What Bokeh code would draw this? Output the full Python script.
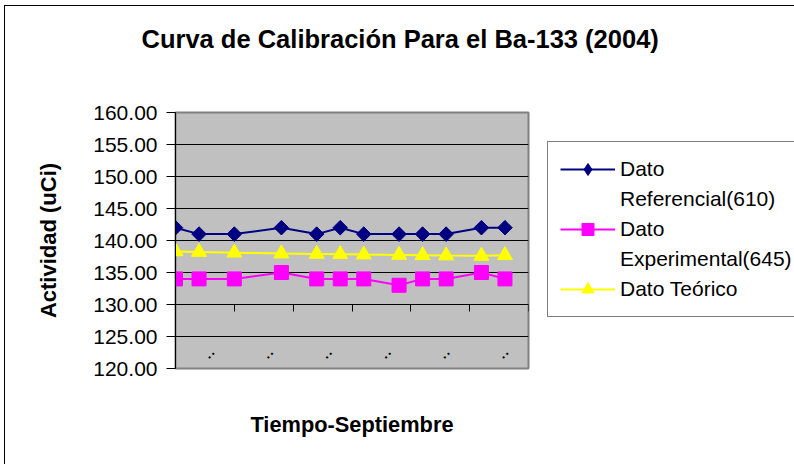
import numpy as np
from bokeh.plotting import figure
from bokeh.models import (LinearAxis, FixedTicker, Legend, LegendItem, LabelSet,
                          ColumnDataSource, Range1d, Title)
from bokeh.core.properties import value
from bokeh.embed import file_html
from bokeh.resources import INLINE

FONT = "Liberation Sans"

# ---- data ----
days = [1, 3, 6, 10, 13, 15, 17, 20, 22, 24, 27, 29]
referencial = [142, 141, 141, 142, 141, 142, 141, 141, 141, 141, 142, 142]
experimental = [134, 134, 134, 135, 134, 134, 134, 133, 134, 134, 135, 134]
teorico = [138.3, 138.2, 138.1, 137.95, 137.9, 137.85, 137.8, 137.75, 137.7, 137.65, 137.6, 137.7]

x_ticks = [1, 6, 11, 16, 21, 26, 31]
x_tick_labels = [":", ":", ":", ":", ":", ":", ":"]
x_axis_cross = 130
y_ticks = [120, 125, 130, 135, 140, 145, 150, 155, 160]
y_tick_labels = ["120.00", "125.00", "130.00", "135.00", "140.00",
                 "145.00", "150.00", "155.00", "160.00"]

legend_labels = ["Dato", "Referencial(610)", "Dato", "Experimental(645)", "Dato Teórico"]
title_text = "Curva de Calibración Para el Ba-133  (2004)"
x_label = "Tiempo-Septiembre"
y_label = "Actividad (uCi)"

NAVY = "#000080"
MAGENTA = "#FF00FF"
YELLOW = "#FFFF00"

LABEL_SHIFT_PX = 22      # date labels sit this far left of their tick

p = figure(frame_width=353, frame_height=256,
           x_range=Range1d(x_ticks[0], x_ticks[-1]), y_range=Range1d(y_ticks[0], y_ticks[-1]),
           output_backend="svg", toolbar_location=None, x_axis_location=None,
           min_border_left=170, min_border_right=264, min_border_top=106, min_border_bottom=96,
           background_fill_color="#C0C0C0", border_fill_color="white",
           outline_line_color="#808080", outline_line_width=2)
p.styles = {"margin-left": "4px", "margin-top": "5px",
            "border-left": "1px solid black", "border-top": "1px solid black"}

# spacer between plot area and title (an invisible axis with one long hidden tick)
spacer = LinearAxis(ticker=FixedTicker(ticks=[x_ticks[0]]), axis_line_color=None,
                    major_tick_line_color=None, minor_tick_line_color=None,
                    major_tick_out=60, major_tick_in=0, major_label_standoff=0,
                    major_label_text_font_size="0px")
p.add_layout(spacer, "above")
title = Title(text=title_text, text_font=FONT, text_font_size="25.5px",
              text_font_style="bold", text_color="black", align="left",
              offset=-34, standoff=0)
p.add_layout(title, "above")

# y axis
ya = p.yaxis[0]
ya.ticker = FixedTicker(ticks=y_ticks)
ya.major_label_overrides = dict(zip(y_ticks, y_tick_labels))
ya.major_label_text_font = FONT
ya.major_label_text_font_size = "21px"
ya.major_label_text_color = "black"
ya.major_tick_out = 9
ya.major_tick_in = 0
ya.minor_tick_line_color = None
ya.axis_line_color = "black"
ya.major_tick_line_color = "black"
ya.major_label_standoff = 9
ya.axis_label = y_label
ya.axis_label_text_font = FONT
ya.axis_label_text_font_size = "22px"
ya.axis_label_text_font_style = "bold"
ya.axis_label_text_color = "black"
ya.axis_label_standoff = 29

p.xgrid.visible = False
p.ygrid.ticker = FixedTicker(ticks=y_ticks)
p.ygrid.grid_line_color = "black"
p.ygrid.grid_line_width = 1

# x label (blank axis carrying the title of the x axis)
xl = LinearAxis(ticker=FixedTicker(ticks=[]), axis_line_color=None,
                major_tick_line_color=None, minor_tick_line_color=None,
                major_tick_out=0, major_tick_in=0, major_label_standoff=0,
                major_label_text_font_size="0px",
                axis_label=x_label, axis_label_standoff=43,
                axis_label_text_font=FONT, axis_label_text_font_size="21.8px",
                axis_label_text_font_style="bold", axis_label_text_color="black")
p.add_layout(xl, "below")

# x axis crossing at 130
xa = LinearAxis(fixed_location=x_axis_cross, ticker=FixedTicker(ticks=x_ticks),
                major_label_text_font_size="0px", major_tick_out=7, major_tick_in=0,
                minor_tick_line_color=None, axis_line_color="black", axis_line_width=1,
                major_tick_line_color="black", major_tick_line_width=1)
p.add_layout(xa, "below")

# date labels inside the plot area (tiny rotated dots)
src_in = ColumnDataSource(dict(x=x_ticks, y=[y_ticks[0]] * len(x_ticks), text=x_tick_labels))
p.add_layout(LabelSet(x="x", y="y", text="text", source=src_in,
                      x_offset=-LABEL_SHIFT_PX, y_offset=14,
                      angle=-np.pi / 4, text_align="center", text_baseline="middle",
                      text_font=value(FONT), text_font_size="14px", text_font_style="bold",
                      text_color="black"))

# series
r1l = p.line(days, referencial, line_color=NAVY, line_width=2)
r1key = p.scatter(days, referencial, marker="diamond", size=13,
                  fill_color=NAVY, line_color=NAVY)   # hidden under the markers; legend key
r1s = p.scatter(days, referencial, marker="square", angle=np.pi / 4, size=10.3,
                fill_color=NAVY, line_color=NAVY)
r2l = p.line(days, experimental, line_color=MAGENTA, line_width=2)
r2s = p.scatter(days, experimental, marker="square", size=14,
                fill_color=MAGENTA, line_color=MAGENTA)
r3l = p.line(days, teorico, line_color=YELLOW, line_width=2)
r3s = p.scatter(days, teorico, marker="triangle", size=15,
                fill_color=YELLOW, line_color=YELLOW)
dummy = p.line([], [], line_alpha=0)

items = [
    LegendItem(label=legend_labels[0], renderers=[r1l, r1key]),
    LegendItem(label=legend_labels[1], renderers=[dummy]),
    LegendItem(label=legend_labels[2], renderers=[r2l, r2s]),
    LegendItem(label=legend_labels[3], renderers=[dummy]),
    LegendItem(label=legend_labels[4], renderers=[r3l, r3s]),
]
legend = Legend(items=items, location=(19, 51), orientation="vertical",
                label_text_font=FONT, label_text_font_size="21px", label_text_color="black",
                glyph_width=55, glyph_height=30, label_height=30, spacing=0,
                label_standoff=5, padding=12, margin=0,
                border_line_color="black", border_line_width=1,
                background_fill_color="white", background_fill_alpha=1.0)
p.add_layout(legend, "right")

with open("out.html", "w", encoding="utf-8") as f:
    f.write(file_html(p, INLINE))
